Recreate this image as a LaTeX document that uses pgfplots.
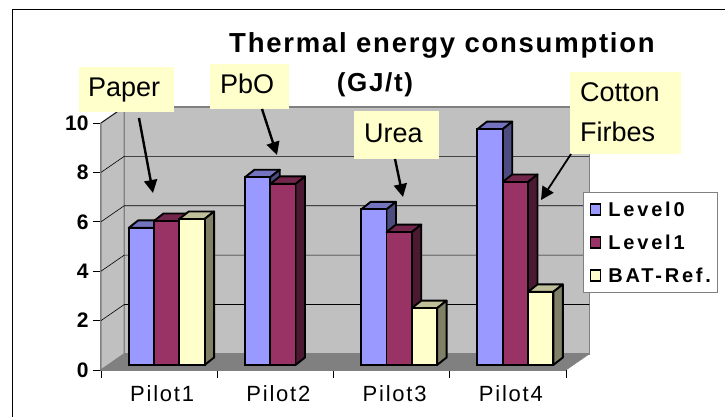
\documentclass[border=0pt]{standalone}
\usepackage{pgfplots}
\pgfplotsset{compat=1.18}
\usepackage{fontspec}
\usetikzlibrary{arrows.meta}
\setmainfont{Liberation Sans}
\newfontfamily\tfont[LetterSpace=6.4,BoldFont={Liberation Sans Bold}]{Liberation Sans}
\newfontfamily\lfont[LetterSpace=14,BoldFont={Liberation Sans Bold}]{Liberation Sans}
\newfontfamily\xfont[LetterSpace=8]{Liberation Sans}
\definecolor{cA}{HTML}{9999FF}
\definecolor{cB}{HTML}{993366}
\definecolor{cC}{HTML}{FFFFCC}
\definecolor{wall}{HTML}{C0C0C0}
\definecolor{floorc}{HTML}{808080}
\newcommand{\faces}[4]{% centre, series offset, value, colour
  \pgfmathsetmacro{\xl}{#1+(#2)*0.2176-0.1088}
  \pgfmathsetmacro{\xr}{\xl+0.2176}
  \pgfmathsetmacro{\xlb}{\xl+0.0817}
  \pgfmathsetmacro{\xrb}{\xr+0.0817}
  \pgfmathsetmacro{\vb}{#3+0.304}
  \addplot[forget plot,draw=black,line width=1.9pt,line join=round,fill=#4!75!black] coordinates {(\xl,#3) (\xlb,\vb) (\xrb,\vb) (\xr,#3)} -- cycle;
  \addplot[forget plot,draw=black,line width=1.9pt,line join=round,fill=#4!50!black] coordinates {(\xr,0) (\xrb,0.304) (\xrb,\vb) (\xr,#3)} -- cycle;
}
\begin{document}
\begin{tikzpicture}[x=1pt,y=1pt]
\path[use as bounding box] (0,0) rectangle (725,417);
\fill[white] (0,0) rectangle (725,417);
\draw[black,line width=1pt] (12,0) -- (12,407) -- (725,407);
% walls and scale
\begin{axis}[
  at={(101pt,47pt)},anchor=origin,scale only axis,width=465pt,height=247pt,
  xmin=0,xmax=4,ymin=0,ymax=10,clip=false,
  axis lines=left,axis line style={-,draw=floorc,line width=1.3pt},
  xtick={0,1,2,3,4},xticklabels={Pilot1,Pilot2,Pilot3,Pilot4},x tick label as interval,
  ytick={0,2,4,6,8,10},
  tick align=outside,major tick length=8pt,tick style={black,line width=0.6pt},
  /pgf/number format/assume math mode=true,
  yticklabel style={font=\fontsize{21}{21}\selectfont\bfseries,xshift=-1pt},
  xticklabel style={font=\xfont\fontsize{22}{22}\selectfont,yshift=-4pt,xshift=3pt},
]
\addplot[forget plot,draw=floorc,line width=1.3pt,fill=wall] coordinates {(0,0) (0.2,0.65) (0.2,10.65) (0,10)} -- cycle;
\addplot[forget plot,draw=floorc,line width=1.5pt,fill=wall] coordinates {(0.2,0.65) (4.2,0.65) (4.2,10.65) (0.2,10.65)} -- cycle;
\addplot[forget plot,draw=floorc,line width=0.5pt,fill=floorc] coordinates {(0,0) (4,0) (4.2,0.65) (0.2,0.65)} -- cycle;
\addplot[forget plot,black,line width=0.6pt] coordinates {(0,2) (0.2,2.65) (4.2,2.65)};
\addplot[forget plot,black,line width=0.6pt] coordinates {(0,4) (0.2,4.65) (4.2,4.65)};
\addplot[forget plot,black,line width=0.6pt] coordinates {(0,6) (0.2,6.65) (4.2,6.65)};
\addplot[forget plot,black,line width=0.6pt] coordinates {(0,8) (0.2,8.65) (4.2,8.65)};
\addplot[forget plot,black,line width=0.6pt] coordinates {(0,10) (0.2,10.65)};
\end{axis}
% bars
\begin{axis}[
  at={(108.5pt,52pt)},anchor=origin,scale only axis,width=465pt,height=247pt,
  xmin=0,xmax=4,ymin=0,ymax=10,clip=false,hide axis,
  legend cell align=left,
  legend style={at={(axis cs:4.082,7.0)},anchor=north west,draw=gray,line width=1pt,fill=white,
    font=\lfont\fontsize{20}{20}\selectfont\bfseries,row sep=15pt,inner xsep=6pt,inner ysep=8pt,
    nodes={inner sep=1pt}},
]
\faces{0.5}{-1}{5.55}{cA}\faces{1.5}{-1}{7.60}{cA}\faces{2.5}{-1}{6.30}{cA}\faces{3.5}{-1}{9.55}{cA}
\addplot[forget plot,ybar,bar width=25.3pt,bar shift=-25.3pt,draw=black,line width=1.9pt,fill=cA] coordinates {(0.5,5.55) (1.5,7.60) (2.5,6.30) (3.5,9.55)};
\faces{0.5}{0}{5.83}{cB}\faces{1.5}{0}{7.33}{cB}\faces{2.5}{0}{5.38}{cB}\faces{3.5}{0}{7.41}{cB}
\addplot[forget plot,ybar,bar width=25.3pt,bar shift=0pt,draw=black,line width=1.9pt,fill=cB] coordinates {(0.5,5.83) (1.5,7.33) (2.5,5.38) (3.5,7.41)};
\faces{0.5}{1}{5.91}{cC}\faces{2.5}{1}{2.30}{cC}\faces{3.5}{1}{2.96}{cC}
\addplot[forget plot,ybar,bar width=25.3pt,bar shift=25.3pt,draw=black,line width=1.9pt,fill=cC] coordinates {(0.5,5.91) (2.5,2.30) (3.5,2.96)};
\addlegendimage{legend image code/.code={\draw[black,line width=1.9pt,fill=cA] (0pt,-5.5pt) rectangle (10pt,5.5pt);}}
\addlegendentry{\hspace{6pt}Level0}
\addlegendimage{legend image code/.code={\draw[black,line width=1.9pt,fill=cB] (0pt,-5.5pt) rectangle (10pt,5.5pt);}}
\addlegendentry{\hspace{6pt}Level1}
\addlegendimage{legend image code/.code={\draw[black,line width=1.9pt,fill=cC] (0pt,-5.5pt) rectangle (10pt,5.5pt);}}
\addlegendentry{\hspace{6pt}BAT-Ref.\hspace{16pt}}
\end{axis}
% title
\node[anchor=base,font=\tfont\fontsize{27.5}{27.5}\selectfont\bfseries,inner sep=0pt] at (442,364) {Thermal energy consumption};
\node[anchor=base,font=\tfont\fontsize{26}{26}\selectfont\bfseries,inner sep=0pt] at (375,325) {(GJ/t)};
% callouts
\fill[cC] (79,305) rectangle (174,350);
\node[anchor=base west,font=\fontsize{27}{27}\selectfont,inner sep=0pt] at (88,320) {Paper};
\fill[cC] (210,308) rectangle (289,353);
\node[anchor=base west,font=\fontsize{27}{27}\selectfont,inner sep=0pt] at (220,323) {PbO};
\fill[cC] (354,258) rectangle (439,306);
\node[anchor=base west,font=\fontsize{27}{27}\selectfont,inner sep=0pt] at (364,274) {Urea};
\fill[cC] (570,263) rectangle (681,345);
\node[anchor=base west,font=\fontsize{27}{27}\selectfont,inner sep=0pt] at (580,315) {Cotton};
\node[anchor=base west,font=\fontsize{27}{27}\selectfont,inner sep=0pt] at (580,275) {Firbes};
% arrows
\draw[black,line width=2.4pt,-{Triangle[length=13pt,width=13pt]}] (139,299) -- (153,224);
\draw[black,line width=2.4pt,-{Triangle[length=13pt,width=13pt]}] (262,308) -- (277,262);
\draw[black,line width=2.4pt,-{Triangle[length=13pt,width=13pt]}] (395,258) -- (403,220);
\draw[black,line width=1.8pt,-{Triangle[length=13pt,width=13pt]}] (571,263) -- (541,217);
\end{tikzpicture}
\end{document}
